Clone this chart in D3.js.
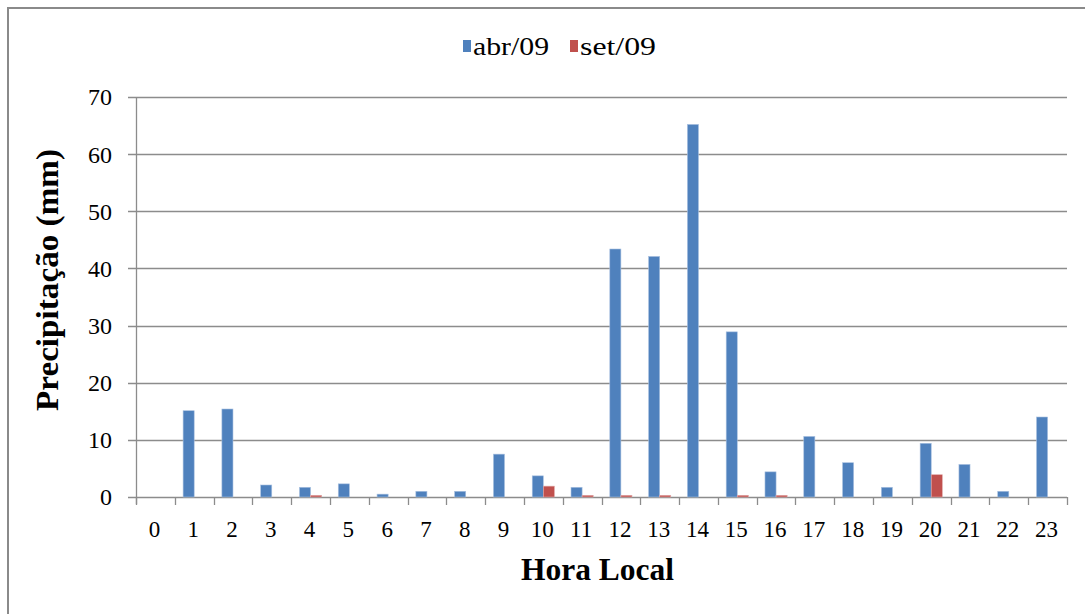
<!DOCTYPE html>
<html>
<head>
<meta charset="utf-8">
<script src="https://cdn.jsdelivr.net/npm/d3@7"></script>
<style>
  html, body { margin: 0; padding: 0; background: #fff; }
  svg { display: block; }
</style>
</head>
<body>
<svg id="chart" width="1085" height="614" font-family="'Liberation Serif', 'Times New Roman', 'DejaVu Serif', serif"></svg>
<script>
// Hourly precipitation (mm) by local hour
const hours = ["0","1","2","3","4","5","6","7","8","9","10","11","12","13","14","15","16","17","18","19","20","21","22","23"];
const seriesNames = ["abr/09", "set/09"];
const abr09 = [0, 15.1, 15.4, 2.1, 1.7, 2.3, 0.5, 1.0, 1.0, 7.5, 3.7, 1.7, 43.4, 42.1, 65.2, 28.9, 4.4, 10.6, 6.0, 1.7, 9.4, 5.7, 1.0, 14.0];
const set09 = [0, 0, 0, 0, 0.3, 0, 0, 0, 0, 0, 1.9, 0.3, 0.3, 0.3, 0, 0.3, 0.3, 0, 0, 0, 3.9, 0, 0, 0];
const yTicks = [0, 10, 20, 30, 40, 50, 60, 70];
const colors = ["#4F81BD", "#C0504D"];

const FONT = "'Liberation Serif', 'Times New Roman', 'DejaVu Serif', serif";
const svg = d3.select("#chart");

// outer chart frame
svg.append("rect")
  .attr("x", 8).attr("y", 8)
  .attr("width", 1085).attr("height", 620)
  .attr("fill", "none").attr("stroke", "#8a8a8a").attr("stroke-width", 2);

const plot = { left: 136, right: 1067, top: 97, bottom: 497 };

const x = d3.scaleBand().domain(hours).range([plot.left, plot.right]).padding(0);
const y = d3.scaleLinear().domain([0, 70]).range([plot.bottom, plot.top]);
const bw = x.bandwidth() / 3.5;
const inner = d3.scaleBand().domain(seriesNames)
  .range([x.bandwidth() / 2 - bw, x.bandwidth() / 2 + bw]).padding(0);

// horizontal gridlines with short left tick marks
svg.append("g").selectAll("line").data(yTicks).join("line")
  .attr("x1", plot.left - 8).attr("x2", plot.right)
  .attr("y1", d => Math.round(y(d)) + 0.5).attr("y2", d => Math.round(y(d)) + 0.5)
  .attr("stroke", "#8c8c8c").attr("stroke-width", 1.3);

// y tick labels
svg.append("g").selectAll("text").data(yTicks).join("text")
  .attr("x", 112).attr("y", d => y(d))
  .attr("dy", "0.35em")
  .attr("text-anchor", "end")
  .attr("font-family", FONT)
  .attr("font-size", 24)
  .text(d => d);

// vertical axis line
svg.append("line")
  .attr("x1", plot.left + 0.5).attr("x2", plot.left + 0.5)
  .attr("y1", plot.top).attr("y2", plot.bottom + 7)
  .attr("stroke", "#8c8c8c").attr("stroke-width", 1.3);

// x tick marks at category boundaries
const bounds = hours.map(h => x(h)).concat([plot.right]);
svg.append("g").selectAll("line").data(bounds).join("line")
  .attr("x1", d => Math.round(d) + 0.5).attr("x2", d => Math.round(d) + 0.5)
  .attr("y1", plot.bottom).attr("y2", plot.bottom + 8)
  .attr("stroke", "#8c8c8c").attr("stroke-width", 1.3);

// bars
const rows = hours.map((h, i) => ({ h, vals: [abr09[i], set09[i]] }));
const groups = svg.append("g").selectAll("g").data(rows).join("g")
  .attr("transform", d => `translate(${x(d.h)},0)`);
groups.selectAll("rect")
  .data(d => d.vals.map((v, k) => ({ v, k })).filter(e => e.v > 0))
  .join("rect")
  .attr("x", e => inner(seriesNames[e.k]))
  .attr("width", bw)
  .attr("y", e => y(e.v))
  .attr("height", e => y(0) - y(e.v))
  .attr("fill", e => colors[e.k])
  .attr("stroke", e => e.k === 0 ? "#a9c1e0" : "#e0a9a8")
  .attr("stroke-width", 0.6);

// x tick labels
svg.append("g").selectAll("text").data(hours).join("text")
  .attr("x", d => x(d) + x.bandwidth() / 2 - 1)
  .attr("y", 537)
  .attr("text-anchor", "middle")
  .attr("font-family", FONT)
  .attr("font-size", 23)
  .text(d => d);

// axis titles
svg.append("text")
  .attr("x", (plot.left + plot.right) / 2 - 4).attr("y", 580)
  .attr("text-anchor", "middle")
  .attr("font-family", FONT)
  .attr("font-size", 31).attr("font-weight", "bold")
  .attr("textLength", 153).attr("lengthAdjust", "spacingAndGlyphs")
  .text("Hora Local");

svg.append("text")
  .attr("transform", "translate(58,280) rotate(-90)")
  .attr("text-anchor", "middle")
  .attr("font-family", FONT)
  .attr("font-size", 31).attr("font-weight", "bold")
  .attr("textLength", 262).attr("lengthAdjust", "spacingAndGlyphs")
  .text("Precipitação (mm)");

// legend
const legend = svg.append("g").attr("transform", "translate(463,0)");
const legendX = [0, 107];
seriesNames.forEach((name, k) => {
  legend.append("rect")
    .attr("x", legendX[k]).attr("y", 40)
    .attr("width", 8).attr("height", 12)
    .attr("fill", colors[k]);
  legend.append("text")
    .attr("x", legendX[k] + 10).attr("y", 55)
    .attr("font-family", FONT)
    .attr("font-size", 26)
    .attr("textLength", 76).attr("lengthAdjust", "spacingAndGlyphs")
    .text(name);
});
</script>
</body>
</html>
